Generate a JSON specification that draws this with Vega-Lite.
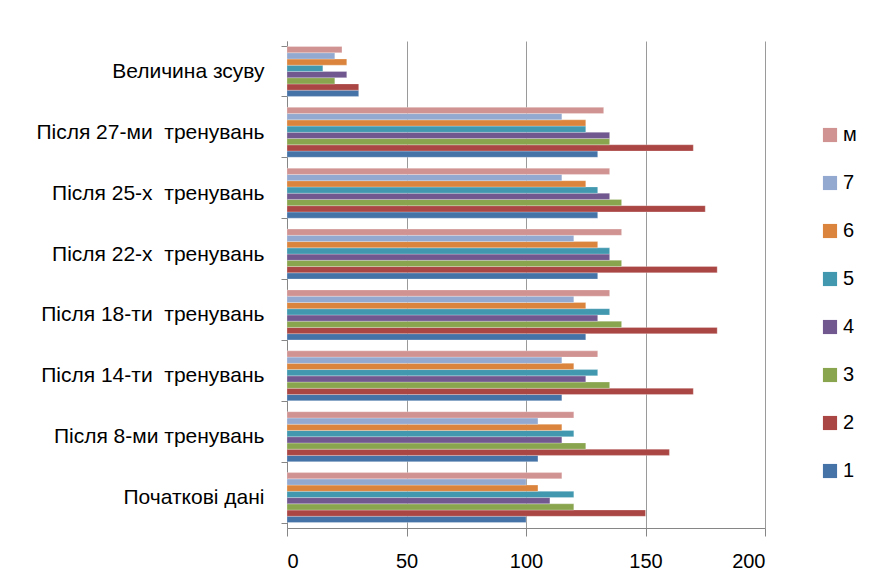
{
  "$schema": "https://vega.github.io/schema/vega-lite/v6.json",
  "width": 478,
  "height": 487,
  "autosize": {"type": "none"},
  "padding": {"left": 287, "top": 41, "right": 104, "bottom": 58},
  "background": "white",
  "config": {
    "view": {"stroke": null},
    "font": "Liberation Sans",
    "axis": {"labelFont": "Liberation Sans", "labelColor": "#000000"}
  },
  "data": {
    "values": [
      {"cat": "Величина зсуву", "s": "1", "v": 30},
      {"cat": "Величина зсуву", "s": "2", "v": 30},
      {"cat": "Величина зсуву", "s": "3", "v": 20},
      {"cat": "Величина зсуву", "s": "4", "v": 25},
      {"cat": "Величина зсуву", "s": "5", "v": 15},
      {"cat": "Величина зсуву", "s": "6", "v": 25},
      {"cat": "Величина зсуву", "s": "7", "v": 20},
      {"cat": "Величина зсуву", "s": "м", "v": 23},
      {"cat": "Після 27-ми  тренувань", "s": "1", "v": 130},
      {"cat": "Після 27-ми  тренувань", "s": "2", "v": 170},
      {"cat": "Після 27-ми  тренувань", "s": "3", "v": 135},
      {"cat": "Після 27-ми  тренувань", "s": "4", "v": 135},
      {"cat": "Після 27-ми  тренувань", "s": "5", "v": 125},
      {"cat": "Після 27-ми  тренувань", "s": "6", "v": 125},
      {"cat": "Після 27-ми  тренувань", "s": "7", "v": 115},
      {"cat": "Після 27-ми  тренувань", "s": "м", "v": 132.5},
      {"cat": "Після 25-х  тренувань", "s": "1", "v": 130},
      {"cat": "Після 25-х  тренувань", "s": "2", "v": 175},
      {"cat": "Після 25-х  тренувань", "s": "3", "v": 140},
      {"cat": "Після 25-х  тренувань", "s": "4", "v": 135},
      {"cat": "Після 25-х  тренувань", "s": "5", "v": 130},
      {"cat": "Після 25-х  тренувань", "s": "6", "v": 125},
      {"cat": "Після 25-х  тренувань", "s": "7", "v": 115},
      {"cat": "Після 25-х  тренувань", "s": "м", "v": 135},
      {"cat": "Після 22-х  тренувань", "s": "1", "v": 130},
      {"cat": "Після 22-х  тренувань", "s": "2", "v": 180},
      {"cat": "Після 22-х  тренувань", "s": "3", "v": 140},
      {"cat": "Після 22-х  тренувань", "s": "4", "v": 135},
      {"cat": "Після 22-х  тренувань", "s": "5", "v": 135},
      {"cat": "Після 22-х  тренувань", "s": "6", "v": 130},
      {"cat": "Після 22-х  тренувань", "s": "7", "v": 120},
      {"cat": "Після 22-х  тренувань", "s": "м", "v": 140},
      {"cat": "Після 18-ти  тренувань", "s": "1", "v": 125},
      {"cat": "Після 18-ти  тренувань", "s": "2", "v": 180},
      {"cat": "Після 18-ти  тренувань", "s": "3", "v": 140},
      {"cat": "Після 18-ти  тренувань", "s": "4", "v": 130},
      {"cat": "Після 18-ти  тренувань", "s": "5", "v": 135},
      {"cat": "Після 18-ти  тренувань", "s": "6", "v": 125},
      {"cat": "Після 18-ти  тренувань", "s": "7", "v": 120},
      {"cat": "Після 18-ти  тренувань", "s": "м", "v": 135},
      {"cat": "Після 14-ти  тренувань", "s": "1", "v": 115},
      {"cat": "Після 14-ти  тренувань", "s": "2", "v": 170},
      {"cat": "Після 14-ти  тренувань", "s": "3", "v": 135},
      {"cat": "Після 14-ти  тренувань", "s": "4", "v": 125},
      {"cat": "Після 14-ти  тренувань", "s": "5", "v": 130},
      {"cat": "Після 14-ти  тренувань", "s": "6", "v": 120},
      {"cat": "Після 14-ти  тренувань", "s": "7", "v": 115},
      {"cat": "Після 14-ти  тренувань", "s": "м", "v": 130},
      {"cat": "Після 8-ми тренувань", "s": "1", "v": 105},
      {"cat": "Після 8-ми тренувань", "s": "2", "v": 160},
      {"cat": "Після 8-ми тренувань", "s": "3", "v": 125},
      {"cat": "Після 8-ми тренувань", "s": "4", "v": 115},
      {"cat": "Після 8-ми тренувань", "s": "5", "v": 120},
      {"cat": "Після 8-ми тренувань", "s": "6", "v": 115},
      {"cat": "Після 8-ми тренувань", "s": "7", "v": 105},
      {"cat": "Після 8-ми тренувань", "s": "м", "v": 120},
      {"cat": "Початкові дані", "s": "1", "v": 100},
      {"cat": "Початкові дані", "s": "2", "v": 150},
      {"cat": "Початкові дані", "s": "3", "v": 120},
      {"cat": "Початкові дані", "s": "4", "v": 110},
      {"cat": "Початкові дані", "s": "5", "v": 120},
      {"cat": "Початкові дані", "s": "6", "v": 105},
      {"cat": "Початкові дані", "s": "7", "v": 100},
      {"cat": "Початкові дані", "s": "м", "v": 115}
    ]
  },
  "mark": {"type": "bar", "stroke": "#ffffff", "strokeOpacity": 0.5, "strokeWidth": 0.5},
  "encoding": {
    "y": {
      "field": "cat",
      "type": "nominal",
      "sort": ["Величина зсуву", "Після 27-ми  тренувань", "Після 25-х  тренувань", "Після 22-х  тренувань", "Після 18-ти  тренувань", "Після 14-ти  тренувань", "Після 8-ми тренувань", "Початкові дані"],
      "scale": {"paddingInner": 0.18, "paddingOuter": 0.09},
      "axis": {
        "title": null,
        "labelFontSize": 21,
        "labelPadding": 17,
        "labelExpr": "replace(datum.label, '  ', '\u00a0 ')",
        "tickBand": "extent",
        "tickSize": 6,
        "tickColor": "#868686",
        "domainColor": "#868686",
        "labelLimit": 300
      }
    },
    "yOffset": {"field": "s", "type": "nominal", "sort": "descending"},
    "x": {
      "field": "v",
      "type": "quantitative",
      "scale": {"domain": [0, 200], "nice": false},
      "axis": {
        "title": null,
        "values": [0, 50, 100, 150, 200],
        "labelFontSize": 20,
        "labelPadding": 15,
        "tickSize": 8,
        "tickColor": "#868686",
        "domainColor": "#868686",
        "gridColor": "#9a9a9a",
        "gridWidth": 1
      }
    },
    "color": {
      "field": "s",
      "type": "nominal",
      "scale": {
        "domain": ["м", "7", "6", "5", "4", "3", "2", "1"],
        "range": ["#D19392", "#93A9CF", "#DB843D", "#4198AF", "#71588F", "#89A54E", "#AA4643", "#4572A7"]
      },
      "legend": {
        "title": null,
        "orient": "none",
        "legendX": 533,
        "legendY": 84,
        "direction": "vertical",
        "symbolType": "square",
        "symbolSize": 200,
        "symbolStrokeWidth": 0,
        "labelFontSize": 20,
        "labelFont": "Liberation Sans",
        "labelOffset": 3,
        "rowPadding": 28
      }
    }
  }
}
